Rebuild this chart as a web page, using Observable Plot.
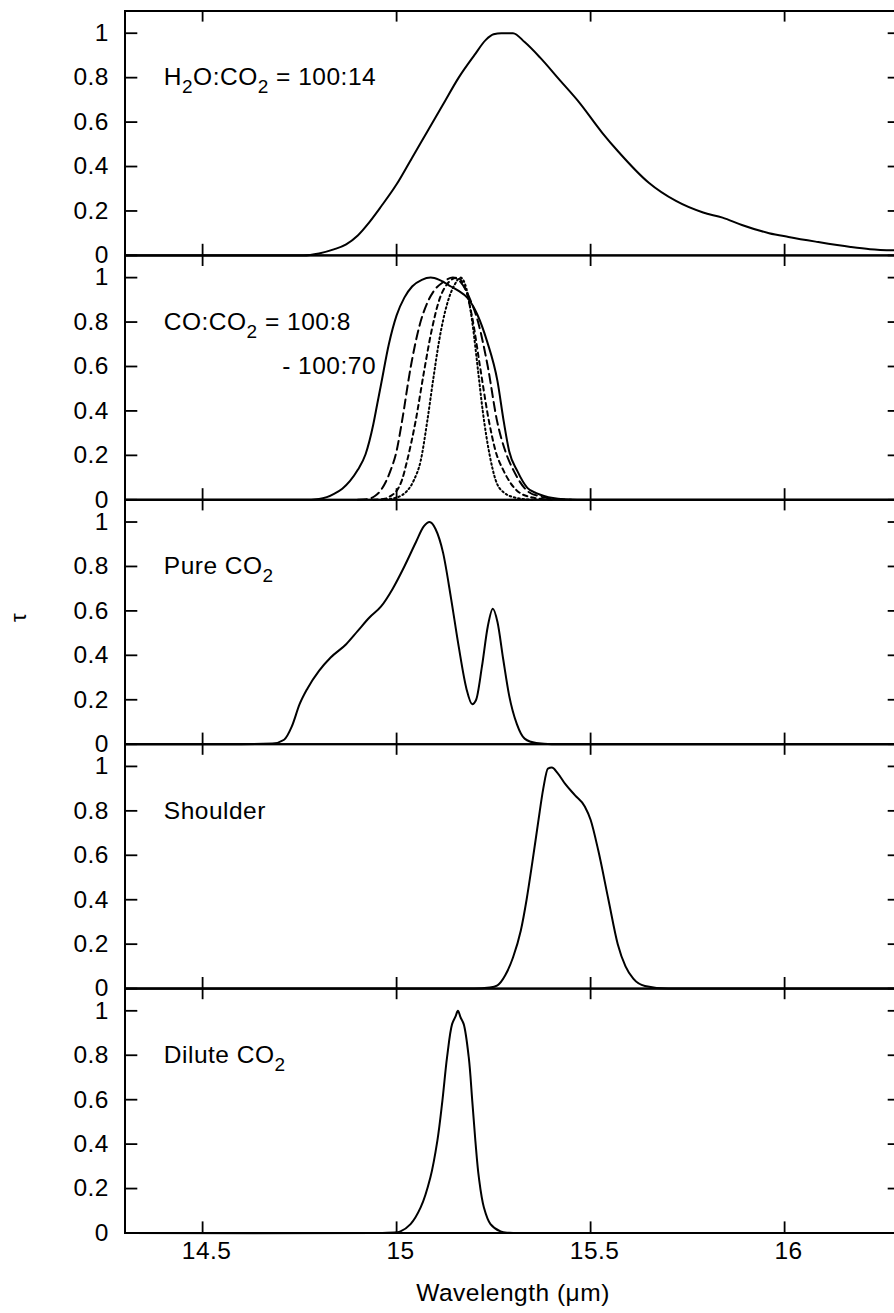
<!DOCTYPE html>
<html><head><meta charset="utf-8">
<script src="https://cdn.jsdelivr.net/npm/d3@7"></script>
<script src="https://cdn.jsdelivr.net/npm/@observablehq/plot@0.6"></script>
<style>
html,body{margin:0;padding:0;overflow:hidden;background:#fff;}
#chart{width:894px;height:1313px;overflow:hidden;}
#chart svg{max-width:none !important;}
#chart svg text{letter-spacing:0.5px;}
</style></head><body><div id="chart"></div>
<script>
// Panels (top to bottom)
const panels = ["H2O:CO2", "CO:CO2", "Pure CO2", "Shoulder", "Dilute CO2"];
const panelLabels = ["H₂O:CO₂ = 100:14", "CO:CO₂ = 100:8", "Pure CO₂", "Shoulder", "Dilute CO₂"];
const extraLabel = "- 100:70";

// Axis ticks
const xTicks = [14.5, 15, 15.5, 16];
const xTickLabels = ["14.5", "15", "15.5", "16"];
const yTicks = [0, 0.2, 0.4, 0.6, 0.8, 1];
const yTickLabels = ["0", "0.2", "0.4", "0.6", "0.8", "1"];
const xTitle = "Wavelength (μm)";
const yTitle = "τ";

// Panel 1: H2O:CO2 = 100:14
const h2oX = [14.3, 14.76, 14.8, 14.84, 14.87, 14.9, 14.93, 14.96, 15.0, 15.04, 15.08, 15.12, 15.16, 15.2, 15.23, 15.25, 15.27, 15.3, 15.33, 15.37, 15.42, 15.47, 15.53, 15.57, 15.65, 15.72, 15.79, 15.84, 15.89, 15.96, 16.01, 16.08, 16.17, 16.22, 16.3];
const h2oY = [0, 0, 0.009, 0.028, 0.05, 0.09, 0.15, 0.22, 0.32, 0.44, 0.56, 0.68, 0.8, 0.9, 0.97, 0.995, 1.0, 1.0, 0.96, 0.89, 0.79, 0.69, 0.552, 0.47, 0.327, 0.245, 0.193, 0.17, 0.137, 0.1, 0.083, 0.062, 0.038, 0.028, 0.022];

// Panel 2: CO:CO2 mixtures, 100:8 (solid) ... 100:70 (dotted)
const co8X = [14.3, 14.76, 14.8, 14.82, 14.84, 14.86, 14.88, 14.9, 14.92, 14.94, 14.95, 14.96, 14.98, 15.0, 15.02, 15.04, 15.065, 15.088, 15.11, 15.14, 15.16, 15.182, 15.208, 15.233, 15.26, 15.276, 15.29, 15.311, 15.337, 15.36, 15.38, 15.43, 15.5, 16.3];
const co8Y = [0, 0, 0.004, 0.012, 0.028, 0.05, 0.085, 0.135, 0.205, 0.34, 0.43, 0.52, 0.7, 0.83, 0.91, 0.96, 0.99, 1.0, 0.99, 0.96, 0.94, 0.91, 0.834, 0.714, 0.534, 0.354, 0.22, 0.13, 0.054, 0.03, 0.017, 0.003, 0, 0];
const coBX = [14.9, 14.93, 14.945, 14.958, 14.972, 14.984, 15.0, 15.014, 15.036, 15.06, 15.08, 15.096, 15.12, 15.145, 15.165, 15.19, 15.21, 15.235, 15.259, 15.28, 15.302, 15.337, 15.37, 15.4, 15.45];
const coBY = [0, 0.005, 0.018, 0.04, 0.08, 0.13, 0.22, 0.354, 0.594, 0.79, 0.89, 0.94, 0.98, 1.0, 0.98, 0.9, 0.8, 0.6, 0.354, 0.22, 0.13, 0.04, 0.015, 0.005, 0];
const coCX = [14.94, 14.97, 14.985, 15.0, 15.014, 15.027, 15.049, 15.07, 15.09, 15.11, 15.13, 15.155, 15.175, 15.195, 15.215, 15.238, 15.255, 15.276, 15.311, 15.35, 15.4];
const coCY = [0, 0.005, 0.018, 0.04, 0.09, 0.175, 0.354, 0.57, 0.76, 0.9, 0.97, 1.0, 0.96, 0.82, 0.6, 0.354, 0.22, 0.13, 0.04, 0.01, 0];
const co70X = [14.96, 15.0, 15.015, 15.027, 15.045, 15.062, 15.079, 15.095, 15.11, 15.13, 15.15, 15.165, 15.18, 15.195, 15.21, 15.222, 15.24, 15.255, 15.275, 15.31, 15.35];
const co70Y = [0, 0.01, 0.022, 0.04, 0.09, 0.175, 0.354, 0.55, 0.72, 0.88, 0.97, 1.0, 0.95, 0.8, 0.58, 0.4, 0.2, 0.09, 0.035, 0.008, 0];

// Panel 3: Pure CO2
const pureX = [14.3, 14.6, 14.68, 14.71, 14.73, 14.75, 14.77, 14.8, 14.83, 14.87, 14.9, 14.93, 14.96, 14.99, 15.02, 15.05, 15.07, 15.085, 15.1, 15.12, 15.14, 15.16, 15.18, 15.195, 15.205, 15.22, 15.235, 15.248, 15.26, 15.275, 15.29, 15.31, 15.33, 15.36, 15.4, 16.3];
const pureY = [0, 0, 0.003, 0.02, 0.08, 0.18, 0.25, 0.33, 0.39, 0.45, 0.51, 0.57, 0.62, 0.7, 0.8, 0.91, 0.98, 1.0, 0.97, 0.86, 0.66, 0.44, 0.25, 0.18, 0.2, 0.35, 0.53, 0.61, 0.55, 0.38, 0.22, 0.09, 0.025, 0.005, 0, 0];

// Panel 4: Shoulder
const shX = [14.3, 15.2, 15.24, 15.26, 15.28, 15.3, 15.32, 15.335, 15.35, 15.365, 15.378, 15.39, 15.4, 15.415, 15.435, 15.46, 15.485, 15.5, 15.52, 15.546, 15.57, 15.59, 15.61, 15.64, 15.7, 16.3];
const shY = [0, 0, 0.005, 0.015, 0.06, 0.14, 0.26, 0.4, 0.57, 0.75, 0.9, 0.99, 0.995, 0.97, 0.92, 0.87, 0.82, 0.76, 0.62, 0.4, 0.2, 0.1, 0.045, 0.012, 0, 0];

// Panel 5: Dilute CO2
const dilX = [14.3, 14.95, 15.0, 15.01, 15.036, 15.062, 15.087, 15.105, 15.118, 15.13, 15.143, 15.152, 15.158, 15.165, 15.173, 15.186, 15.195, 15.203, 15.212, 15.225, 15.242, 15.268, 15.29, 15.35, 16.3];
const dilY = [0, 0, 0.003, 0.007, 0.04, 0.115, 0.25, 0.415, 0.595, 0.79, 0.94, 0.975, 1.0, 0.97, 0.94, 0.79, 0.595, 0.415, 0.25, 0.115, 0.04, 0.007, 0.001, 0, 0];

function rows(panel, series, xs, ys) { return xs.map((x, i) => ({panel, series, x, y: ys[i]})); }
const solidRows = [
  ...rows(panels[0], "H2O:CO2 100:14", h2oX, h2oY),
  ...rows(panels[1], "CO:CO2 100:8", co8X, co8Y),
  ...rows(panels[2], "Pure CO2", pureX, pureY),
  ...rows(panels[3], "Shoulder", shX, shY)
];
const dilRows = rows(panels[4], "Dilute CO2", dilX, dilY);
const longDashRows = rows(panels[1], "CO:CO2 mix 2", coBX, coBY);
const shortDashRows = rows(panels[1], "CO:CO2 mix 3", coCX, coCY);
const dottedRows = rows(panels[1], "CO:CO2 100:70", co70X, co70Y);

const labelRows = panels.map((p, i) => ({panel: p, x: 14.4, y: 0.8, t: panelLabels[i]}));
labelRows.push({panel: panels[1], x: 14.705, y: 0.6, t: extraLabel});

const xTickRows = xTicks.map((x, i) => ({panel: panels[4], x, t: xTickLabels[i]}));
const yTickRows = yTicks.map((y, i) => ({y, t: yTickLabels[i]}));

const tickLenX = 0.033, tickLenY = 0.05;
const lineStyle = {x: "x", y: "y", fy: "panel", z: "series", stroke: "black", curve: "monotone-x"};

const chart = Plot.plot({
  width: 904, height: 1313,
  marginLeft: 124.5, marginRight: 3.5, marginTop: 10.5, marginBottom: 80.5,
  style: {fontFamily: "'Liberation Sans', Arial, Helvetica, sans-serif", fontSize: "24.5px", background: "white", color: "black", overflow: "visible", maxWidth: "none"},
  x: {domain: [14.3, 16.3], axis: null},
  y: {domain: [0, 1.1], axis: null},
  fy: {domain: panels, padding: 0, axis: null, round: false},
  marks: [
    Plot.ruleX(xTicks, {x: d => d, y1: 0, y2: tickLenY, stroke: "black", strokeWidth: 1.8}),
    Plot.ruleX(xTicks, {x: d => d, y1: 1.1 - tickLenY, y2: 1.1, stroke: "black", strokeWidth: 1.8}),
    Plot.ruleY(yTicks, {y: d => d, x1: 14.3, x2: 14.3 + tickLenX, stroke: "black", strokeWidth: 1.8}),
    Plot.ruleY(yTicks, {y: d => d, x1: 16.3 - tickLenX, x2: 16.3, stroke: "black", strokeWidth: 1.8}),
    Plot.line(solidRows, {...lineStyle, strokeWidth: 2}),
    Plot.line(dilRows, {...lineStyle, strokeWidth: 2, curve: "catmull-rom"}),
    Plot.line(longDashRows, {...lineStyle, strokeWidth: 2, strokeDasharray: "9,5"}),
    Plot.line(shortDashRows, {...lineStyle, strokeWidth: 2, strokeDasharray: "4.5,4"}),
    Plot.line(dottedRows, {...lineStyle, strokeWidth: 2, strokeDasharray: "1.6,2.8"}),
    Plot.frame({stroke: "black", strokeWidth: 2}),
    Plot.text(yTickRows, {y: "y", text: "t", frameAnchor: "left", dx: -16, textAnchor: "end", fill: "black"}),
    Plot.text(xTickRows, {x: "x", fy: "panel", text: "t", frameAnchor: "bottom", dy: 26, dx: 4, fill: "black"}),
    Plot.text(labelRows, {x: "x", y: "y", fy: "panel", text: "t", textAnchor: "start", fill: "black"}),
    Plot.text([{panel: panels[4], t: xTitle}], {fy: "panel", text: "t", frameAnchor: "bottom", dy: 68, fill: "black"}),
    Plot.text([{panel: panels[2], t: yTitle}], {fy: "panel", text: "t", frameAnchor: "left", dx: -106, rotate: -90, fontSize: 22, fill: "black"})
  ]
});

// subscripts for the "₂" characters
const ns = "http://www.w3.org/2000/svg";
chart.querySelectorAll("text").forEach(t => {
  const s = t.textContent;
  if (!s.includes("₂")) return;
  const parts = s.split("₂");
  t.textContent = "";
  parts.forEach((p, i) => {
    if (i > 0) {
      const sub = document.createElementNS(ns, "tspan");
      sub.setAttribute("dy", "8");
      sub.setAttribute("font-size", "19");
      sub.textContent = "2";
      t.appendChild(sub);
    }
    if (p) {
      const ts = document.createElementNS(ns, "tspan");
      if (i > 0) ts.setAttribute("dy", "-8");
      ts.textContent = p;
      t.appendChild(ts);
    }
  });
});
document.getElementById("chart").appendChild(chart);
</script></body></html>
